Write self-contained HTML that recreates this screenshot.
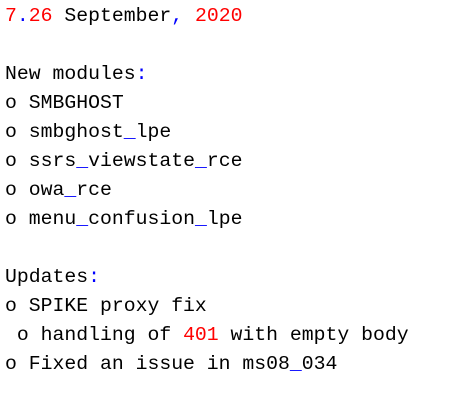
<!DOCTYPE html>
<html><head><meta charset="utf-8"><style>
html,body{margin:0;padding:0;background:#fff;width:453px;height:400px;overflow:hidden}
pre{margin:0;padding:2px 0 0 5px;font-family:"Liberation Mono","Courier New",monospace;font-size:19.8px;line-height:29px;color:#000}
.r{color:#ff0000}.b{color:#0000ff}
</style></head><body><pre><span class="r">7</span><span class="b">.</span><span class="r">26</span> September<span class="b">,</span> <span class="r">2020</span>

New modules<span class="b">:</span>
o SMBGHOST
o smbghost<span class="b">_</span>lpe
o ssrs<span class="b">_</span>viewstate<span class="b">_</span>rce
o owa<span class="b">_</span>rce
o menu<span class="b">_</span>confusion<span class="b">_</span>lpe

Updates<span class="b">:</span>
o SPIKE proxy fix
 o handling of <span class="r">401</span> with empty body
o Fixed an issue in ms08<span class="b">_</span>034
</pre></body></html>
